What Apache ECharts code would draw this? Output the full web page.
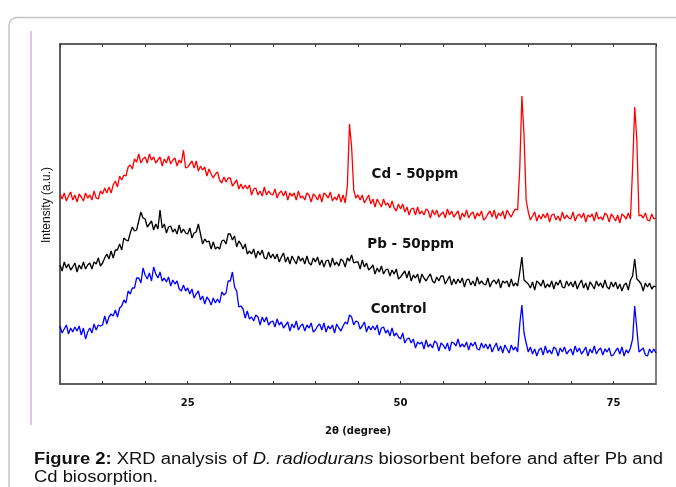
<!DOCTYPE html>
<html>
<head>
<meta charset="utf-8">
<script src="https://cdn.jsdelivr.net/npm/echarts@6/dist/echarts.min.js"></script>
<style>
html,body{margin:0;padding:0;background:#fff;}
#chart{width:676px;height:487px;}
</style>
</head>
<body>
<div id="chart"></div>
<script>
// 2θ sampling grid (degrees)
const twoThetaStart = 10;
const twoThetaStep = 0.25;
// Bottom-axis tick labels
const tickLabels = [25, 50, 75];
// Series labels
const seriesNames = ['Cd - 50ppm', 'Pb - 50ppm', 'Control'];
// Intensity (a.u.), one row per 5 degrees
const cd50 = [
190,185,191,183,188,192,184,189,182,190,187,183,191,186,189,184,193,186,185,193,
190,196,191,197,191,199,203,197,208,204,209,208,217,219,215,225,222,230,221,225,
227,221,230,224,227,221,224,227,218,225,221,228,220,224,226,218,224,221,234,216,
217,220,223,216,223,213,218,214,217,208,215,210,206,210,212,204,201,207,202,206,
206,198,201,204,195,200,195,199,195,199,189,195,196,189,193,188,197,189,193,190,
189,195,186,191,193,188,193,184,191,188,191,184,193,186,188,184,191,189,182,190,
188,184,190,182,191,189,186,192,183,187,184,190,182,189,181,198,260,237,194,186,
189,184,189,181,185,189,180,185,177,185,181,177,185,179,181,176,183,176,173,180,
175,180,172,177,169,175,176,169,177,170,173,169,175,173,166,174,169,174,167,170,
172,166,175,169,173,167,170,173,164,171,167,174,166,170,172,165,171,168,173,164,
166,170,173,167,174,165,171,168,173,165,174,170,167,172,175,174,216,288,249,184,
172,164,168,172,163,169,165,170,166,171,162,169,170,164,168,163,172,165,169,166,
165,172,163,168,170,166,171,162,169,167,170,163,172,165,167,164,171,169,162,170,
167,163,169,161,170,168,165,171,165,216,277,244,168,169,166,171,164,163,170,165,
166
];
const pb50 = [
119,113,122,116,120,114,117,121,112,119,115,122,115,119,121,115,122,120,126,118,
121,126,130,125,133,126,134,134,140,134,146,144,143,151,157,153,154,163,172,166,
165,157,160,163,154,160,155,174,156,160,151,157,158,152,155,150,159,151,155,151,
150,156,146,151,152,160,150,140,145,142,143,135,142,135,137,135,143,144,140,150,
150,144,148,137,143,140,135,140,130,133,130,135,126,133,129,134,126,125,132,126,
130,125,130,122,127,131,122,127,120,128,124,120,128,123,126,120,128,121,119,126,
122,127,119,124,117,123,124,117,126,119,122,118,125,123,117,126,123,129,121,122,
122,115,124,117,121,114,116,119,110,116,112,118,110,114,115,108,114,110,115,105,
107,110,113,106,113,103,109,106,110,101,110,106,103,107,110,103,101,107,103,108,
108,100,104,108,99,105,100,105,101,106,97,104,105,99,103,98,107,100,103,100,
99,106,97,102,104,100,105,96,103,101,103,97,105,98,101,98,112,127,104,102,
100,96,102,94,103,101,98,104,96,100,97,103,95,102,99,104,97,96,103,98,
102,97,103,95,100,104,96,101,94,102,99,95,103,98,101,96,104,97,95,102,
97,102,95,100,93,99,101,94,104,108,125,105,103,100,93,101,97,101,95,98,
97
];
const control = [
58,51,55,59,50,56,52,57,53,58,49,56,45,52,56,51,60,54,59,58,
59,68,60,67,70,68,74,67,76,78,84,81,93,90,96,96,106,106,101,116,
109,105,111,103,117,110,106,112,103,106,102,107,98,104,100,103,95,93,99,93,
96,90,95,86,90,93,84,88,80,87,84,79,86,81,85,81,92,89,91,103,
103,112,97,93,77,78,75,66,73,65,67,63,69,67,59,67,62,67,59,62,
63,57,65,59,62,56,59,62,53,60,56,63,54,58,60,53,59,56,61,52,
54,58,60,54,61,52,58,55,59,51,60,56,53,58,62,60,69,67,59,63,
62,55,58,62,52,58,54,58,54,59,49,56,57,51,54,48,56,48,51,47,
45,51,41,45,46,41,45,36,42,40,42,35,44,37,40,36,43,41,33,41,
39,35,41,33,42,41,38,45,37,40,37,42,34,41,38,42,35,34,41,36,
40,35,40,32,37,41,33,38,31,39,35,31,39,34,37,32,60,79,51,41,
32,37,30,35,28,34,36,29,38,31,34,30,37,35,28,36,32,37,30,33,
35,29,38,32,36,30,33,37,28,35,31,38,30,34,36,29,35,32,36,28,
29,33,36,30,37,28,34,31,36,45,78,55,32,34,36,29,28,35,31,35,
31
];
// Label anchor points [2θ, intensity]
const labelAnchors = [[46.6, 210], [46.1, 140], [46.5, 75]];

function pairs(arr){ return arr.map((v,i)=>[twoThetaStart + i*twoThetaStep, v]); }

const chart = echarts.init(document.getElementById('chart'), null, {renderer:'canvas'});
const colors = ['#ff0000', '#000000', '#0000ff'];
const datasets = [cd50, pb50, control];
const labelFont = {fontFamily:'DejaVu Sans', fontWeight:'bold', fontSize:13.5, color:'#111'};

const series = datasets.map((d, k) => ({
  type:'line',
  data: pairs(d),
  showSymbol:false,
  symbol:'none',
  animation:false,
  lineStyle:{color:colors[k], width:1.3},
  z: 3 - k,
  markPoint:{
    symbol:'circle', symbolSize:0, animation:false,
    data:[{coord:labelAnchors[k], value:seriesNames[k]}],
    label:Object.assign({show:true, position:'right', distance:0, formatter:seriesNames[k]}, labelFont)
  }
}));

const option = {
  backgroundColor:'#fff',
  animation:false,
  grid:{left:60, right:20, top:44, bottom:103, show:true, borderColor:'#555', borderWidth:1.5, backgroundColor:'transparent'},
  xAxis:[{
    type:'value', min:10, max:80, interval:5, position:'bottom',
    axisLine:{show:true, lineStyle:{color:'#555', width:1.5}},
    axisTick:{show:true, inside:true, length:3, lineStyle:{color:'#333'}},
    splitLine:{show:false},
    axisLabel:{margin:14, fontFamily:'DejaVu Sans', fontWeight:'bold', fontSize:10, color:'#111',
      formatter:v => tickLabels.indexOf(v) >= 0 ? String(v) : '', showMinLabel:false, showMaxLabel:false},
    name:'2θ (degree)', nameLocation:'middle', nameGap:42,
    nameTextStyle:{fontFamily:'DejaVu Sans', fontWeight:'bold', fontSize:10, color:'#111'}
  },{
    type:'value', min:10, max:80, interval:5, position:'top',
    axisLine:{show:true, lineStyle:{color:'#555', width:1.5}},
    axisTick:{show:true, inside:true, length:3, lineStyle:{color:'#333'}},
    axisLabel:{show:false}, splitLine:{show:false}
  }],
  yAxis:{
    type:'value', min:0, max:340,
    axisLine:{show:true, lineStyle:{color:'#555', width:1.5}},
    axisTick:{show:false}, axisLabel:{show:false}, splitLine:{show:false}
  },
  series: series,
  graphic:[
    {type:'rect', silent:true, z:-10, shape:{x:9, y:17.5, width:720, height:520, r:8},
      style:{fill:'none', stroke:'#c4c4c4', lineWidth:1.5}},
    {type:'line', silent:true, shape:{x1:31, y1:31, x2:31, y2:425},
      style:{stroke:'#b68fe6', lineWidth:1}},
    {type:'text', silent:true, x:47, y:205, rotation:Math.PI/2,
      style:{text:'Intensity (a.u.)', font:'12px "Liberation Sans"', fill:'#111',
        textAlign:'center', textVerticalAlign:'middle'}},
    {type:'text', x:34, y:451, scaleX:1.15, silent:true,
      style:{
        text:'{b|Figure 2:} XRD analysis of {i|D. radiodurans} biosorbent before and after Pb and\nCd biosorption.',
        font:'16px "Liberation Sans"', fill:'#111', lineHeight:18,
        rich:{
          b:{fontWeight:'bold', fontSize:16, fontFamily:'Liberation Sans', fill:'#111', lineHeight:18},
          i:{fontStyle:'italic', fontSize:16, fontFamily:'Liberation Sans', fill:'#111', lineHeight:18}
        }
      }}
  ]
};
chart.setOption(option);
</script>
</body>
</html>
